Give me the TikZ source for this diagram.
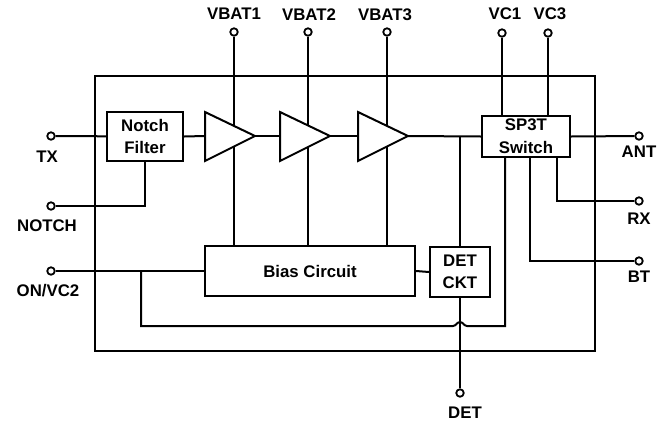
\documentclass[tikz,border=0pt]{standalone}
\usepackage{fontspec}
\setmainfont{Liberation Sans}
\tikzset{
 wire/.style={line width=2pt,draw=black,line join=miter},
 blockbox/.style={draw=black,line width=2.2pt,fill=white,align=center,inner sep=0pt,font=\fontsize{16.8}{22}\selectfont\bfseries},
 term/.style={circle,draw=black,line width=1.8pt,fill=white,minimum size=7.5pt,inner sep=0pt},
 lbl/.style={inner sep=0pt,font=\fontsize{16.8}{18}\selectfont\bfseries},
 ampshape/.style={draw=black,line width=2pt,fill=white,line join=miter},
}
\newcommand{\boxat}[6]{\node[blockbox,minimum width=#4pt-#3pt,minimum height=#6pt-#5pt] (#1) at ({(#3+#4)/2},{(#5+#6)/2}) {#2};}
\begin{document}
\begin{tikzpicture}[x=1pt,y=-1pt]
\useasboundingbox (0,0) rectangle (667,421);
% outer
\node[draw=black,line width=2pt,minimum width=500pt,minimum height=275pt,inner sep=0pt] (chip) at (345,213.5) {};
% terminals
\node[term] (tx) at (51,136) {};
\node[term] (notch) at (51,206) {};
\node[term] (onvc) at (51,271) {};
\node[term] (vb1) at (234,32) {};
\node[term] (vb2) at (308,32) {};
\node[term] (vb3) at (387,32) {};
\node[term] (vc1) at (502,33) {};
\node[term] (vc3) at (548,33) {};
\node[term] (ant) at (639,136) {};
\node[term] (rx) at (639,201) {};
\node[term] (bt) at (639,261) {};
\node[term] (det) at (460,393) {};
% blocks
\boxat{nf}{Notch\\Filter}{107}{183}{112}{161}
\boxat{bias}{Bias Circuit}{205}{415}{246}{296}
\boxat{dc}{DET\\CKT}{430}{490}{247}{297}
\node[blockbox,minimum width=88pt,minimum height=41pt] (sw) at (526,136.5) {};
\node[inner sep=0pt,font=\fontsize{16.8}{18}\selectfont\bfseries] (swa) at (526,125) {SP3T};
\node[inner sep=0pt,font=\fontsize{16.8}{18}\selectfont\bfseries] (swb) at (526,147) {Switch};
% amplifier corners
\coordinate (a1i) at (205,136); \coordinate (a1o) at (255,136);
\coordinate (a2i) at (280,136); \coordinate (a2o) at (330,136);
\coordinate (a3i) at (358,136); \coordinate (a3o) at (408,136);
\coordinate (j) at (460,136);
% wires
\draw[wire] (tx) -- (nf);
\draw[wire] (nf.east) -- (a1i);
\draw[wire,line width=2.6pt] (a1o) -- (a2i);
\draw[wire,line width=2.6pt] (a2o) -- (a3i);
\draw[wire] (a3o) -- (sw.west);
\draw[wire] (notch) -- (145,206) -- (145,161);
\draw[wire] (vb1) -- (bias.north -| vb1);
\draw[wire] (vb2) -- (bias.north -| vb2);
\draw[wire] (vb3) -- (bias.north -| vb3);
\draw[wire] (vc1) -- (sw.north -| vc1);
\draw[wire] (vc3) -- (sw.north -| vc3);
\draw[wire] (sw.east) -- (ant);
\draw[wire] (557,157) -- (557,201) -- (rx);
\draw[wire] (530,157) -- (530,261) -- (bt);
\draw[wire] (j) -- (dc.north);
\draw[wire] (bias.east) -- (dc.west);
\draw[wire] (dc.south) -- (det);
\draw[wire] (onvc) -- (bias.west);
\draw[wire] (141,271) -- (141,326) -- (453,326) .. controls (456,326) and (457,322) .. (460,322) .. controls (463,322) and (464,326) .. (467,326) -- (505,326) -- (505,157);
% amplifiers
\draw[ampshape] (205,112) -- (a1o) -- (205,161) -- cycle;
\draw[ampshape] (280,112) -- (a2o) -- (280,161) -- cycle;
\draw[ampshape] (358,112) -- (a3o) -- (358,161) -- cycle;
% labels
\node[lbl] (ltx) at (47,157) {TX};
\node[lbl] (lnotch) at (47,226) {NOTCH};
\node[lbl] (lon) at (48,291) {ON/VC2};
\node[lbl] (lv1) at (234,14) {VBAT1};
\node[lbl] (lv2) at (309,15) {VBAT2};
\node[lbl] (lv3) at (385,15) {VBAT3};
\node[lbl] (lc1) at (505,14) {VC1};
\node[lbl] (lc3) at (550,14) {VC3};
\node[lbl] (lant) at (639,152) {ANT};
\node[lbl] (lrx) at (639,219) {RX};
\node[lbl] (lbt) at (639,277) {BT};
\node[lbl] (ldet) at (465,413) {DET};
\end{tikzpicture}
\end{document}
